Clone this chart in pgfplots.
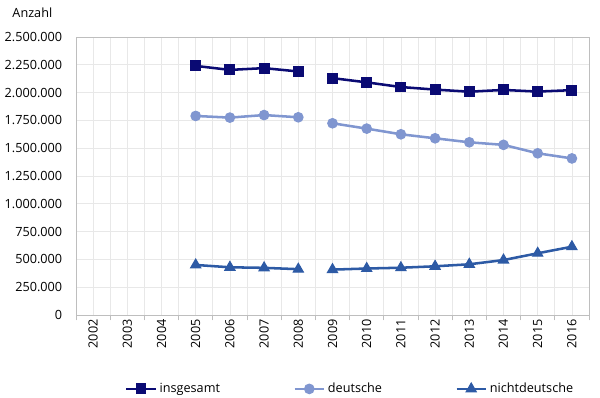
\documentclass[border=0pt]{standalone}
\usepackage{fontspec}
\setmainfont{Open Sans}
\usepackage{pgfplots}
\pgfplotsset{compat=1.18}
\definecolor{cIns}{RGB}{10,10,115}
\definecolor{cDeu}{RGB}{128,150,208}
\definecolor{cNdt}{RGB}{45,90,165}
\definecolor{cGrid}{RGB}{232,232,232}
\definecolor{cAxis}{RGB}{190,190,190}
\begin{document}
\fontsize{9.5pt}{11pt}\selectfont
\begin{tikzpicture}
\path[use as bounding box] (-57pt,-62.25pt) rectangle (393pt,236.25pt);
\begin{axis}[
  scale only axis,
  width=384.75pt, height=208.5pt,
  xmin=2001.5, xmax=2016.5,
  ymin=0, ymax=2500000,
  xtick={2002,...,2016},
  minor xtick={2001.5,2002.5,...,2016.5},
  ytick={0,250000,...,2500000},
  xticklabel style={rotate=90, anchor=east, font=\fontsize{9.5pt}{11pt}\selectfont},
  yticklabel style={font=\fontsize{9.5pt}{11pt}\selectfont, xshift=-7pt},
  /pgf/number format/fixed,
  /pgf/number format/precision=0,
  /pgf/number format/1000 sep={.},
  /pgf/number format/assume math mode=true,
  xticklabel={\pgfmathprintnumber[1000 sep={}]{\tick}},
  scaled y ticks=false,
  grid=both,
  major grid style={cGrid, line width=0.5pt},
  minor grid style={cGrid, line width=0.5pt},
  axis line style={cAxis, line width=0.7pt},
  major tick length=0pt,
  minor tick length=4pt,
  minor tick style={cAxis, line width=0.7pt},
  xtick pos=bottom, ytick pos=left,
  tick align=outside,
  unbounded coords=jump,
  legend columns=3,
  legend style={at={(0.535,-0.225)}, anchor=north, draw=none, fill=none,
    font=\fontsize{9.5pt}{11pt}\selectfont,
    /tikz/every even column/.append style={column sep=53pt}},
  legend image code/.code={
    \draw[mark repeat=2, mark phase=2] plot coordinates {(0pt,0pt) (11pt,0pt) (22pt,0pt)};
  },
]
\addplot[color=cIns, line width=1.9pt, mark=square*, mark size=3.7pt, mark options={line width=0.8pt}] coordinates {
(2005,2240000) (2006,2204000) (2007,2220000) (2008,2190000) (2008.5,nan)
(2009,2130000) (2010,2092000) (2011,2050000) (2012,2027000) (2013,2008000)
(2014,2024000) (2015,2009000) (2016,2022000)};
\addlegendentry{insgesamt}
\addplot[color=cDeu, line width=1.9pt, mark=*, mark size=3.6pt, mark options={line width=0.8pt}] coordinates {
(2005,1790000) (2006,1775000) (2007,1798000) (2008,1778000) (2008.5,nan)
(2009,1724000) (2010,1676000) (2011,1625000) (2012,1589000) (2013,1553000)
(2014,1530000) (2015,1454000) (2016,1408000)};
\addlegendentry{deutsche}
\addplot[color=cNdt, line width=1.9pt, mark=triangle*, mark size=4.4pt, mark options={line width=0.8pt}] coordinates {
(2005,450000) (2006,429000) (2007,424000) (2008,412000) (2008.5,nan)
(2009,408000) (2010,418000) (2011,425000) (2012,438000) (2013,456000)
(2014,494000) (2015,555000) (2016,614000)};
\addlegendentry{nichtdeutsche}
\end{axis}
\node[anchor=west, font=\fontsize{9.5pt}{11pt}\selectfont] at (-51pt,227pt) {Anzahl};
\end{tikzpicture}
\end{document}
